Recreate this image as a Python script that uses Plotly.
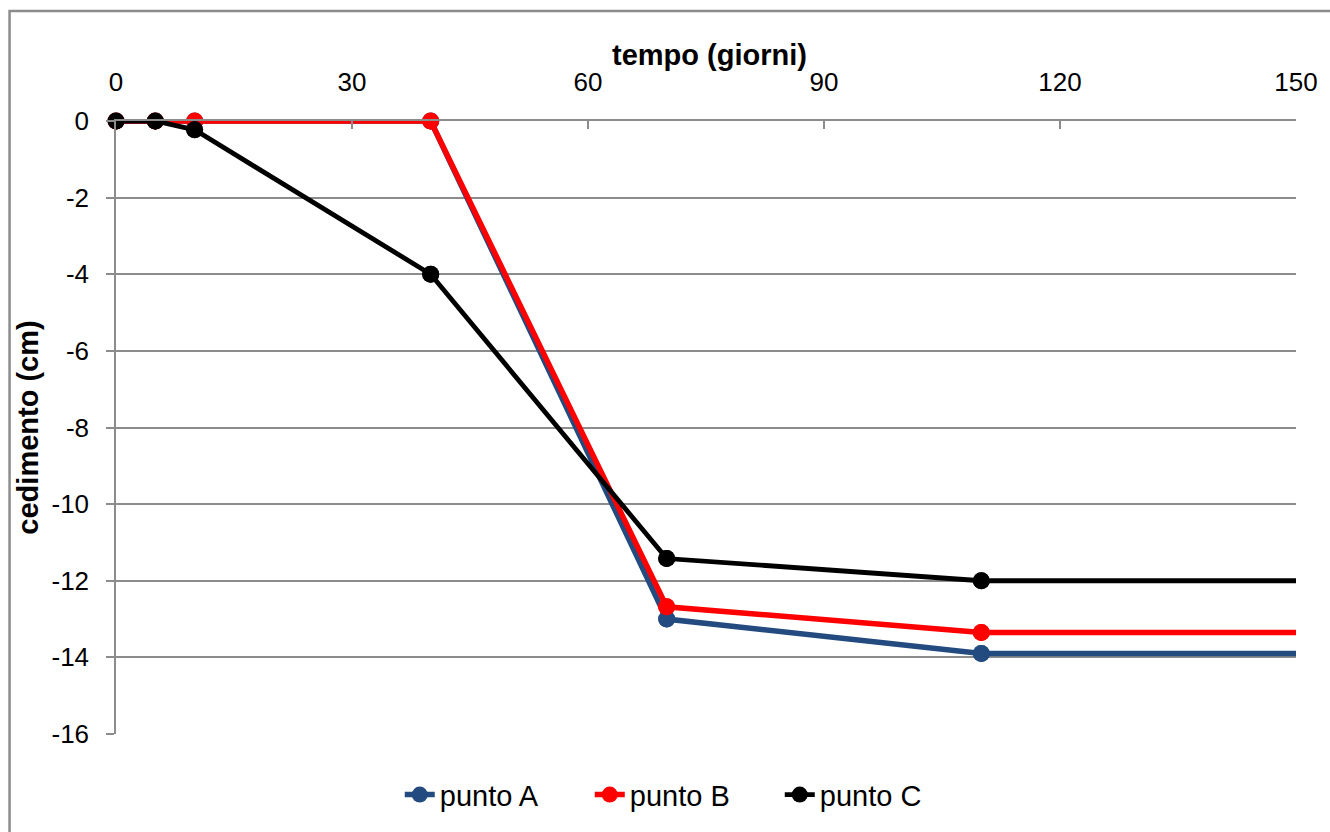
import plotly.graph_objects as go

tempo = [0, 5, 10, 40, 70, 110, 180]
punto_A = [0, 0, 0, 0, -13.0, -13.9, -13.9]
punto_B = [0, 0, 0, 0, -12.68, -13.35, -13.35]
punto_C = [0, 0, -0.23, -4.0, -11.42, -12.0, -12.0]

x_ticks = [0, 30, 60, 90, 120, 150]
y_ticks = [0, -2, -4, -6, -8, -10, -12, -14, -16]
y_ticktext = ["0", "-2", "-4", "-6", "-8", "-10", "-12", "-14", "-16"]

series = [
    ("punto A", punto_A, "#234B80", 5.5),
    ("punto B", punto_B, "#FF0000", 5.5),
    ("punto C", punto_C, "#000000", 4.8),
]

FONT = "Liberation Sans, Arial, sans-serif"
X_MAX = 150
MS = 17

fig = go.Figure()
for name, vals, color, w in series:
    # line (clipped at the plot area) with legend entry
    fig.add_trace(go.Scatter(
        x=tempo, y=vals, name=name, mode="lines+markers",
        line=dict(color=color, width=w),
        marker=dict(color=color, size=MS),
        legendgroup=name,
    ))
    # markers inside the x range, not clipped
    xs = [t for t in tempo if t <= X_MAX]
    ys = [v for t, v in zip(tempo, vals) if t <= X_MAX]
    fig.add_trace(go.Scatter(
        x=xs, y=ys, mode="markers", showlegend=False, legendgroup=name,
        marker=dict(color=color, size=MS), cliponaxis=False,
    ))

fig.update_layout(
    width=1330, height=832,
    margin=dict(l=116, r=28, t=121, b=93),
    paper_bgcolor="white", plot_bgcolor="white",
    font=dict(family=FONT, size=26, color="#000000"),
    showlegend=True,
    legend=dict(orientation="h", x=0.482, xanchor="center", y=-0.099, yanchor="middle",
                font=dict(size=29), entrywidth=145, entrywidthmode="pixels",
                tracegroupgap=0),
    xaxis=dict(
        side="top", range=[0, X_MAX], tickvals=x_ticks,
        showgrid=False, zeroline=False, showline=True, linecolor="#8C8C8C", linewidth=1.5,
        ticks="inside", ticklen=8, tickcolor="#8C8C8C", tickwidth=1.5,
        tickfont=dict(size=26), ticklabelstandoff=18,
    ),
    yaxis=dict(
        range=[-16, 0], tickvals=y_ticks, ticktext=y_ticktext,
        showgrid=True, gridcolor="#8C8C8C", gridwidth=1.5, zeroline=False,
        showline=True, linecolor="#8C8C8C", linewidth=1.5,
        ticks="outside", ticklen=8, tickcolor="#8C8C8C", tickwidth=1.5,
        tickfont=dict(size=26), ticklabelstandoff=12,
        title=dict(text="<b>cedimento (cm)</b>", font=dict(size=29), standoff=4),
    ),
    annotations=[dict(text="<b>tempo (giorni)</b>", xref="paper", yref="paper",
                      x=0.503, y=1.107, xanchor="center", yanchor="middle",
                      showarrow=False, font=dict(size=29))],
    shapes=[dict(type="rect", xref="paper", yref="paper",
                 x0=-0.0902, y0=-0.3, x1=1.2, y1=1.1796,
                 line=dict(color="#8C8C8C", width=2.5), layer="below")],
)

fig.write_html("out.html")
